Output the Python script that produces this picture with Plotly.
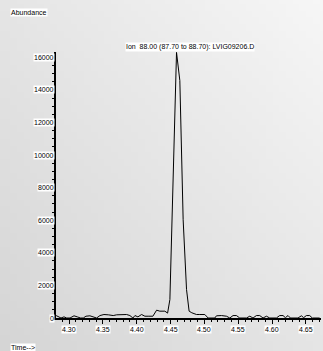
import base64
import struct
import zlib

import plotly.graph_objects as go

# Extracted ion chromatogram, ion 88.00 (87.70 to 88.70), file LVIG09206.D
time_min = [
    4.2810, 4.2842, 4.2882, 4.2926, 4.2966, 4.3015, 4.3074, 4.3122, 4.3172, 4.3211,
    4.3250, 4.3309, 4.3358, 4.3408, 4.3457, 4.3516, 4.3580, 4.3653, 4.3704, 4.3752,
    4.3801, 4.3851, 4.3900, 4.3944, 4.3974, 4.4018, 4.4072, 4.4121, 4.4180, 4.4239,
    4.4294, 4.4342, 4.4416, 4.4456, 4.4490, 4.4538, 4.4588, 4.4637, 4.4686, 4.4736,
    4.4774, 4.4814, 4.4883, 4.4932, 4.5006, 4.5055, 4.5105, 4.5153, 4.5178, 4.5252,
    4.5326, 4.5375, 4.5423, 4.5473, 4.5522, 4.5571, 4.5621, 4.5670, 4.5718, 4.5768,
    4.5817, 4.5866, 4.5916, 4.5965, 4.6013, 4.6063, 4.6112, 4.6161, 4.6196, 4.6235,
    4.6270, 4.6326, 4.6382, 4.6432, 4.6466, 4.6506, 4.6555, 4.6594, 4.6643, 4.6702,
]
abundance = [
    150, 70, 0, 70, 0, 0, 135, 70, 0, 0,
    110, 135, 70, 0, 150, 215, 195, 150, 195, 215,
    195, 215, 150, 0, 150, 70, 215, 110, 110, 110,
    480, 420, 420, 300, 1130, 7860, 16300, 14570, 6030, 1740,
    420, 320, 215, 215, 215, 0, 0, 0, 135, 150,
    110, 0, 150, 150, 0, 0, 0, 110, 0, 150,
    150, 0, 110, 0, 0, 0, 150, 150, 20, 150,
    0, 0, 0, 135, 20, 150, 150, 0, 0, 0,
]

x_tick_vals = [4.30, 4.35, 4.40, 4.45, 4.50, 4.55, 4.60, 4.65]
x_tick_text = ["4.30", "4.35", "4.40", "4.45", "4.50", "4.55", "4.60", "4.65"]
y_tick_vals = [0, 2000, 4000, 6000, 8000, 10000, 12000, 14000, 16000]
y_tick_text = ["0", "2000", "4000", "6000", "8000", "10000", "12000", "14000", "16000"]

title_text = "Ion  88.00 (87.70 to 88.70): LVIG09206.D"

W, H = 323, 351
ML, MR, MT, MB = 56, 2, 52, 33
PW, PH = W - ML - MR, H - MT - MB


def gradient_png(w, h, tl, tr, bl, br):
    """Small grey PNG with a bilinear gradient between four corner levels."""
    rows = b""
    for j in range(h):
        fy = j / (h - 1)
        row = b"\x00"
        for i in range(w):
            fx = i / (w - 1)
            top = tl + (tr - tl) * fx
            bot = bl + (br - bl) * fx
            v = int(round(top + (bot - top) * fy))
            row += bytes([v, v, v])
        rows += row

    def chunk(tag, data):
        c = struct.pack(">I", len(data)) + tag + data
        return c + struct.pack(">I", zlib.crc32(tag + data) & 0xFFFFFFFF)

    png = b"\x89PNG\r\n\x1a\n"
    png += chunk(b"IHDR", struct.pack(">IIBBBBB", w, h, 8, 2, 0, 0, 0))
    png += chunk(b"IDAT", zlib.compress(rows, 9))
    png += chunk(b"IEND", b"")
    return "data:image/png;base64," + base64.b64encode(png).decode()


font = dict(family="Liberation Sans, Arial, sans-serif", size=7, color="black")

fig = go.Figure()
fig.add_trace(go.Scatter(
    x=time_min, y=abundance, mode="lines",
    line=dict(color="black", width=1),
    hoverinfo="skip", showlegend=False,
))

annotations = []
for v, t in zip(x_tick_vals, x_tick_text):
    annotations.append(dict(
        x=v, y=0, xref="x", yref="paper", text=t, showarrow=False,
        xanchor="center", yanchor="top", yshift=-7,
        bgcolor="white", borderpad=0, font=font,
    ))
for v, t in zip(y_tick_vals, y_tick_text):
    annotations.append(dict(
        x=0, y=v, xref="paper", yref="y", text=t, showarrow=False,
        xanchor="right", yanchor="middle", xshift=-1,
        bgcolor="white", borderpad=0, font=font,
    ))
annotations += [
    # axis captions in the page corners
    dict(x=(10 - ML) / PW, y=1 + (MT - 13) / PH, xref="paper", yref="paper",
         text="Abundance", showarrow=False, xanchor="left", yanchor="middle",
         bgcolor="white", borderpad=0, font=font),
    dict(x=(10 - ML) / PW, y=-(347 - (H - MB)) / PH, xref="paper", yref="paper",
         text="Time-->", showarrow=False, xanchor="left", yanchor="middle",
         bgcolor="white", borderpad=0, font=font),
    # trace label above the peak
    dict(x=(125 - ML) / PW, y=1 + (MT - 46.5) / PH, xref="paper", yref="paper",
         text=title_text, showarrow=False, xanchor="left", yanchor="middle",
         bgcolor="white", borderpad=0, font=font),
]

fig.update_layout(
    width=W, height=H,
    margin=dict(l=ML, r=MR, t=MT, b=MB, pad=0),
    paper_bgcolor="rgba(0,0,0,0)",
    plot_bgcolor="rgba(0,0,0,0)",
    showlegend=False,
    annotations=annotations,
    images=[dict(
        source=gradient_png(48, 52, 229, 246, 213, 229),
        xref="paper", yref="paper",
        x=-ML / PW, y=1 + MT / PH,
        sizex=W / PW, sizey=H / PH,
        xanchor="left", yanchor="top",
        sizing="stretch", layer="below",
    )],
    xaxis=dict(
        range=[4.2808, 4.6722], showgrid=False, zeroline=False,
        showline=True, linecolor="black", linewidth=1.5,
        tickmode="array", tickvals=x_tick_vals, showticklabels=False,
        ticks="outside", ticklen=4, tickwidth=1, tickcolor="black",
        minor=dict(dtick=0.01, tick0=4.30, ticks="outside", ticklen=2,
                   tickwidth=1, tickcolor="black", showgrid=False),
    ),
    yaxis=dict(
        range=[0, 16325], showgrid=False, zeroline=False,
        showline=True, linecolor="black", linewidth=1.5,
        tickmode="array", tickvals=y_tick_vals, showticklabels=False,
        ticks="outside", ticklen=3, tickwidth=1, tickcolor="black",
        minor=dict(dtick=500, tick0=0, ticks="outside", ticklen=2,
                   tickwidth=1, tickcolor="black", showgrid=False),
    ),
)

fig.write_html("out.html")
